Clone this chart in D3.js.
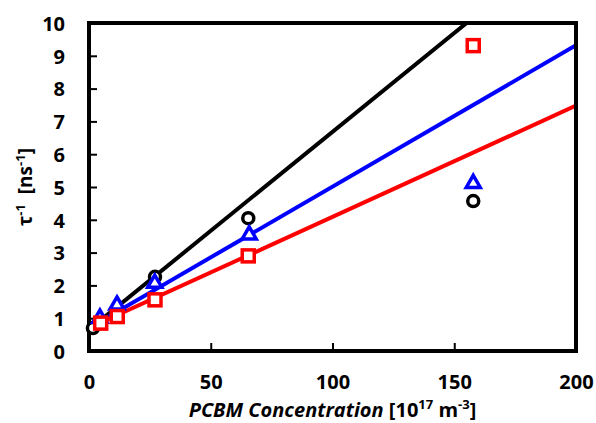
<!DOCTYPE html>
<html>
<head>
<meta charset="utf-8">
<script src="https://cdn.jsdelivr.net/npm/d3@7"></script>
<style>
  body { margin: 0; background: #fff; }
  text { font-family: "Open Sans", "Liberation Sans", sans-serif; font-weight: bold; }
</style>
</head>
<body>
<svg id="chart"></svg>
<script>
// data
const circleX = [1.6, 27.1, 65.4, 157.8];
const circleY = [0.70, 2.26, 4.05, 4.57];
const triX = [4.5, 11.5, 27.0, 65.8, 157.8];
const triY = [1.00, 1.40, 2.07, 3.54, 5.11];
const squareX = [4.8, 11.6, 27.1, 65.4, 157.8];
const squareY = [0.85, 1.05, 1.56, 2.90, 9.31];

// linear fits: [intercept, slope] for black, blue, red
const fitNames = ["black", "blue", "red"];
const fitCoef = [[0.65, 0.0603], [0.70, 0.0431], [0.70, 0.0339]];
const fitX = [0, 200];

const xTicks = [0, 50, 100, 150, 200];
const yTicks = [0, 1, 2, 3, 4, 5, 6, 7, 8, 9, 10];

const width = 596, height = 423;
const margin = {left: 89, right: 20, top: 23, bottom: 72};

let svg = d3.select("#chart")
	.attr("width", width)
	.attr("height", height);

let x = d3.scaleLinear().domain([0, 200]).range([margin.left, width - margin.right]);
let y = d3.scaleLinear().domain([0, 10]).range([height - margin.bottom, margin.top]);

svg.append("clipPath").attr("id", "plot-clip")
	.append("rect")
	.attr("x", x(0)).attr("y", y(10))
	.attr("width", x(200) - x(0)).attr("height", y(0) - y(10));

// fit lines
let line = d3.line().x(d => x(d[0])).y(d => y(d[1]));
svg.append("g").attr("clip-path", "url(#plot-clip)")
	.selectAll("path")
	.data(fitCoef)
	.join("path")
	.attr("d", c => line(fitX.map(v => [v, c[0] + c[1] * v])))
	.attr("fill", "none")
	.attr("stroke", (c, i) => fitNames[i])
	.attr("stroke-width", 4);

// axes, ticks inside
let xAxis = svg.append("g")
	.attr("transform", "translate(0," + y(0) + ")")
	.call(d3.axisBottom(x).tickValues(xTicks).tickSizeInner(-8).tickSizeOuter(0).tickPadding(19));
let yAxis = svg.append("g")
	.attr("transform", "translate(" + x(0) + ",0)")
	.call(d3.axisLeft(y).tickValues(yTicks).tickSizeInner(-8).tickSizeOuter(0).tickPadding(22));

for (let ax of [xAxis, yAxis]) {
	ax.select(".domain").remove();
	ax.selectAll(".tick line").attr("stroke", "#000").attr("stroke-width", 2);
	ax.selectAll(".tick text")
		.attr("fill", "#000")
		.style("font-size", "20px");
}
yAxis.selectAll(".tick text").attr("x", -24).attr("dy", "0.36em");
xAxis.selectAll(".tick text").attr("dy", "0.95em");

// frame
svg.append("rect")
	.attr("x", x(0)).attr("y", y(10))
	.attr("width", x(200) - x(0)).attr("height", y(0) - y(10))
	.attr("fill", "none")
	.attr("stroke", "#000")
	.attr("stroke-width", 4);

// markers
svg.append("g").selectAll("circle")
	.data(d3.zip(circleX, circleY))
	.join("circle")
	.attr("cx", d => x(d[0])).attr("cy", d => y(d[1]))
	.attr("r", 5.5)
	.attr("fill", "#fff").attr("stroke", "#000").attr("stroke-width", 3.5);

let tri = d3.symbol().type(d3.symbolTriangle).size(85);
svg.append("g").selectAll("path")
	.data(d3.zip(triX, triY))
	.join("path")
	.attr("d", tri)
	.attr("transform", d => "translate(" + x(d[0]) + "," + y(d[1]) + ")")
	.attr("fill", "#fff").attr("stroke", "blue").attr("stroke-width", 3.5);

svg.append("g").selectAll("rect")
	.data(d3.zip(squareX, squareY))
	.join("rect")
	.attr("x", d => x(d[0]) - 6).attr("y", d => y(d[1]) - 6)
	.attr("width", 12).attr("height", 12)
	.attr("fill", "#fff").attr("stroke", "red").attr("stroke-width", 3.5);

// axis titles
let xt = svg.append("text")
	.attr("x", (x(0) + x(200)) / 2)
	.attr("y", 417)
	.attr("text-anchor", "middle")
	.style("font-size", "20px");
xt.append("tspan").style("font-style", "italic").text("PCBM Concentration");
xt.append("tspan").text(" [10");
xt.append("tspan").attr("dy", -8).style("font-size", "13px").text("17");
xt.append("tspan").attr("dy", 8).text(" m");
xt.append("tspan").attr("dy", -8).style("font-size", "13px").text("-3");
xt.append("tspan").attr("dy", 8).text("]");

let yt = svg.append("text")
	.attr("transform", "translate(32," + (y(0) + y(10)) / 2 + ") rotate(-90)")
	.attr("text-anchor", "middle")
	.style("font-size", "19px");
yt.append("tspan").text("τ");
yt.append("tspan").attr("dy", -7).style("font-size", "13px").text("-1");
yt.append("tspan").attr("dy", 7).text("\u00a0\u00a0[ns");
yt.append("tspan").attr("dy", -7).style("font-size", "13px").text("-1");
yt.append("tspan").attr("dy", 7).text("]");
</script>
</body>
</html>
